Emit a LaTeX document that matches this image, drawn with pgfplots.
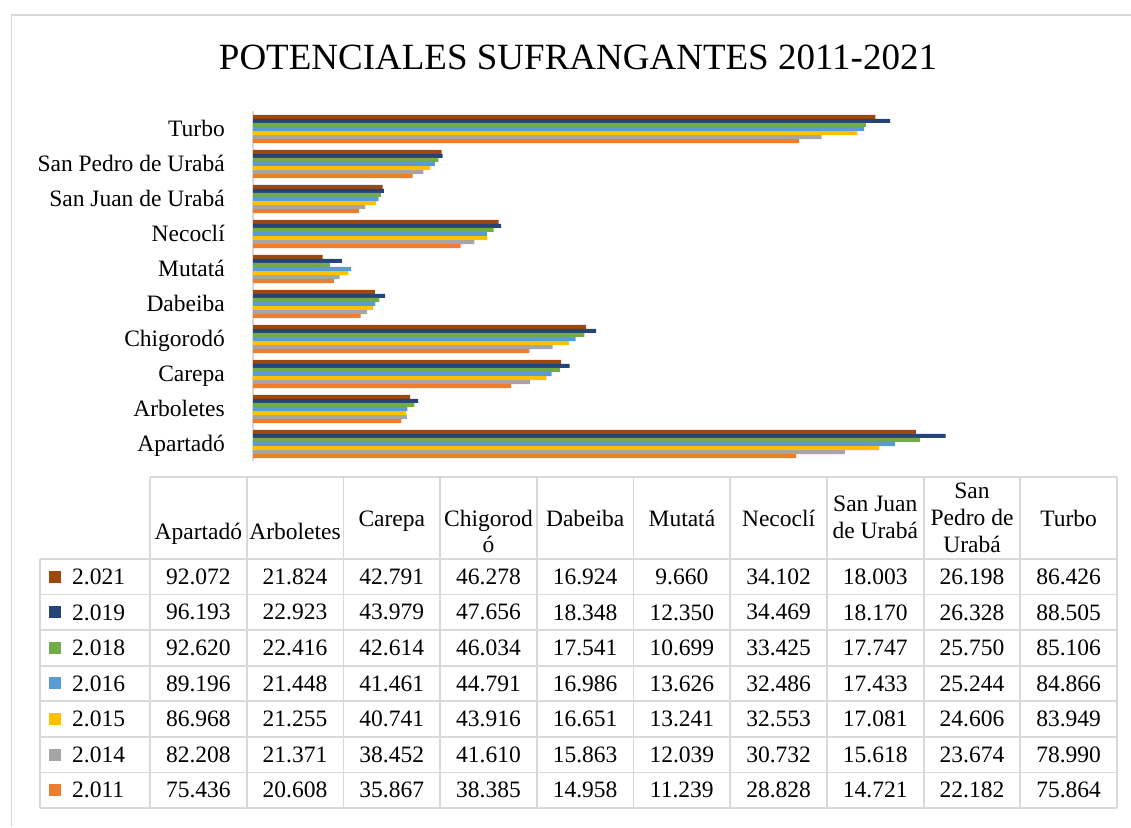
\documentclass[border=0pt]{standalone}
\usepackage{fontspec}
\setmainfont{Liberation Serif}
\usepackage{pgfplots}
\usepackage{pgfplotstable}
\pgfplotsset{compat=1.18}

% one colour per year, named after its column
\definecolor{y2021}{HTML}{9E480E}
\definecolor{y2019}{HTML}{264478}
\definecolor{y2018}{HTML}{70AD47}
\definecolor{y2016}{HTML}{5B9BD5}
\definecolor{y2015}{HTML}{FFC000}
\definecolor{y2014}{HTML}{A5A5A5}
\definecolor{y2011}{HTML}{ED7D31}
\definecolor{grid}{HTML}{D9D9D9}

% idx: 0 Apartado ... 9 Turbo
\pgfplotstableread{
idx y2021  y2019  y2018  y2016  y2015  y2014  y2011
0   92.072 96.193 92.620 89.196 86.968 82.208 75.436
1   21.824 22.923 22.416 21.448 21.255 21.371 20.608
2   42.791 43.979 42.614 41.461 40.741 38.452 35.867
3   46.278 47.656 46.034 44.791 43.916 41.610 38.385
4   16.924 18.348 17.541 16.986 16.651 15.863 14.958
5   9.660  12.350 10.699 13.626 13.241 12.039 11.239
6   34.102 34.469 33.425 32.486 32.553 30.732 28.828
7   18.003 18.170 17.747 17.433 17.081 15.618 14.721
8   26.198 26.328 25.750 25.244 24.606 23.674 22.182
9   86.426 88.505 85.106 84.866 83.949 78.990 75.864
}\pot

\newcommand{\tf}{\fontsize{23.5}{28}\selectfont}

\begin{document}
\begin{tikzpicture}[x=1pt,y=1pt]
\path[use as bounding box] (0,0) rectangle (1131,827);
\draw[grid,line width=1.5pt] (11.5,0) -- (11.5,812) -- (1131,812);
\node[font=\fontsize{37}{44}\selectfont,anchor=base,inner sep=0pt] at (578,757) {POTENCIALES SUFRANGANTES 2011-2021};

\begin{axis}[at={(253pt,365.5pt)},anchor=south west,scale only axis,
  width=864pt,height=350pt,
  xmin=0,xmax=120,ymin=-0.5,ymax=9.5,
  axis x line=none,axis y line*=left,
  y axis line style={draw=black!15,line width=1.5pt},
  ytick={0,...,9},major tick length=0pt,
  yticklabels={Apartadó,Arboletes,Carepa,Chigorodó,Dabeiba,Mutatá,Necoclí,San Juan de Urabá,San Pedro de Urabá,Turbo},
  yticklabel style={font=\tf,inner sep=0pt,anchor=base east,xshift=-28pt,yshift=-8pt},
  xbar,bar width=4.05pt]
\addplot[fill=y2021,draw=none,bar shift=12.15pt] table[x=y2021,y=idx]{\pot};
\addplot[fill=y2019,draw=none,bar shift=8.1pt] table[x=y2019,y=idx]{\pot};
\addplot[fill=y2018,draw=none,bar shift=4.05pt] table[x=y2018,y=idx]{\pot};
\addplot[fill=y2016,draw=none,bar shift=0pt] table[x=y2016,y=idx]{\pot};
\addplot[fill=y2015,draw=none,bar shift=-4.05pt] table[x=y2015,y=idx]{\pot};
\addplot[fill=y2014,draw=none,bar shift=-8.1pt] table[x=y2014,y=idx]{\pot};
\addplot[fill=y2011,draw=none,bar shift=-12.15pt] table[x=y2011,y=idx]{\pot};
\end{axis}

% data table below the chart
\foreach \k in {0,...,10} \draw[grid,line width=1.8pt] ({150+96.7*\k},350) -- ({150+96.7*\k},19);
\draw[grid,line width=1.8pt] (40,268) -- (40,19);
\draw[grid,line width=1.8pt] (150,350) -- (1117,350);
\foreach \r in {0,...,7} \draw[grid,line width=1.8pt] (40,{268-35.57*\r}) -- (1117,{268-35.57*\r});

% header cells: column centre / baseline (from top) / text
\foreach \cx/\by/\t in {198.4/540/Apartadó, 295/540/Arboletes, 391.8/527/Carepa,
  488.5/527/Chigorod, 488.5/553/ó, 585.2/527/Dabeiba, 681.9/527/Mutatá, 778.6/527/Necoclí,
  875.3/512/San Juan, 875.3/539/de Urabá, 972/499/San, 972/526/Pedro de, 972/553/Urabá,
  1068.6/527/Turbo}
  \node[font=\tf,anchor=base,inner sep=0pt] at (\cx,{827-\by}) {\t};

% rows: legend key, year, values
\foreach \s/\lab [count=\i from 0] in {y2021/2.021,y2019/2.019,y2018/2.018,y2016/2.016,y2015/2.015,y2014/2.014,y2011/2.011}{
  \pgfmathsetmacro\Y{268-35.57*(\i+0.5)}
  \fill[\s] (49,\Y-6) rectangle (61,\Y+6);
  \node[font=\tf,anchor=west,inner sep=0pt] at (72,\Y) {\lab};
  \foreach \c in {0,...,9}{
    \pgfplotstablegetelem{\c}{\s}\of\pot
    \node[font=\tf,inner sep=0pt] at ({150+96.7*(\c+0.5)},\Y) {\pgfplotsretval};
  }
}
\end{tikzpicture}
\end{document}
